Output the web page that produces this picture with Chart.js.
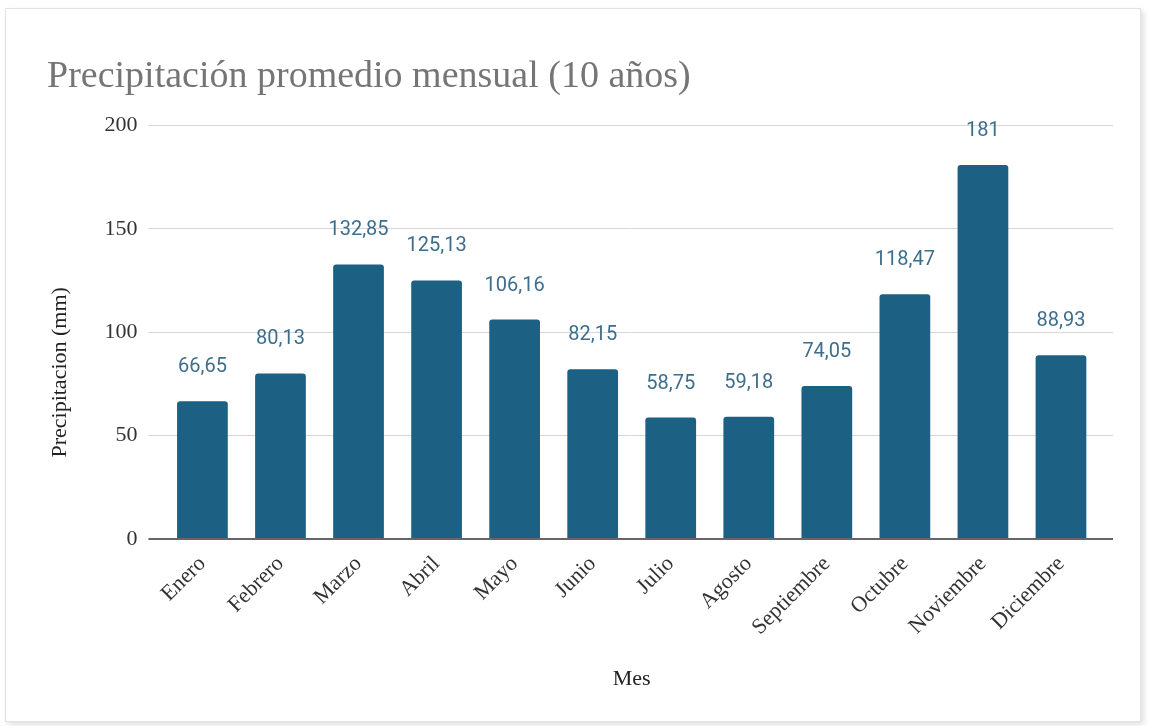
<!DOCTYPE html>
<html lang="es">
<head>
  <meta charset="UTF-8" />
  <title>Precipitación promedio mensual</title>
  <script src="https://cdn.jsdelivr.net/npm/chart.js"></script>
  <style>
    body {
      margin: 0;
      background: #fff;
      width: 1149px;
      height: 726px;
      overflow: hidden;
    }
    .frame {
      position: absolute;
      left: 5px;
      top: 8px;
      width: 1134px;
      height: 712px;
      border: 1px solid #e2e2e2;
      box-shadow: 3px 3px 6px rgba(0,0,0,0.12);
    }
    canvas {
      position: absolute;
      left: 0;
      top: 0;
    }
  </style>
</head>
<body>
  <div class="frame"></div>
  <canvas id="rainChart" width="1149" height="726"></canvas>

  <script>
    const meses = ['Enero', 'Febrero', 'Marzo', 'Abril', 'Mayo', 'Junio',
                   'Julio', 'Agosto', 'Septiembre', 'Octubre', 'Noviembre', 'Diciembre'];
    const precipitacion = [66.65, 80.13, 132.85, 125.13, 106.16, 82.15,
                           58.75, 59.18, 74.05, 118.47, 181, 88.93];
    const yTicks = [0, 50, 100, 150, 200];

    const serif = "'Liberation Serif', 'DejaVu Serif', serif";
    const gridColor = ctx => ctx.tick && ctx.tick.value === 0 ? '#666' : '#d6d6d6';
    const gridWidth = ctx => ctx.tick && ctx.tick.value === 0 ? 2 : 1;

    // value labels above each bar, decimal comma like the sheet
    const valueLabels = {
      id: 'valueLabels',
      afterDatasetsDraw(chart) {
        const ctx = chart.ctx;
        const meta = chart.getDatasetMeta(0);
        ctx.save();
        ctx.font = "20px Roboto, sans-serif";
        ctx.fillStyle = '#3e6e8e';
        ctx.textAlign = 'center';
        ctx.textBaseline = 'middle';
        meta.data.forEach((bar, i) => {
          const txt = String(precipitacion[i]).replace('.', ',');
          ctx.fillText(txt, bar.x, bar.y - 34);
        });
        ctx.restore();
      }
    };

    // the sheet puts the y title a bit below the plot centre
    const yTitle = {
      id: 'yTitle',
      afterDraw(chart) {
        const ctx = chart.ctx;
        const area = chart.chartArea;
        ctx.save();
        ctx.translate(chart.scales.y.left + 13, (area.top + area.bottom) / 2 + 40);
        ctx.rotate(-Math.PI / 2);
        ctx.font = "22px " + serif;
        ctx.fillStyle = '#222';
        ctx.textAlign = 'center';
        ctx.textBaseline = 'middle';
        ctx.fillText('Precipitacion (mm)', 0, 0);
        ctx.restore();
      }
    };

    new Chart(document.getElementById('rainChart'), {
      type: 'bar',
      data: {
        labels: meses,
        datasets: [{
          data: precipitacion,
          backgroundColor: '#1c6184',
          borderRadius: { topLeft: 3, topRight: 3 },
          borderSkipped: 'bottom',
          categoryPercentage: 0.65,
          barPercentage: 1
        }]
      },
      options: {
        responsive: false,
        animation: false,
        layout: { padding: { top: 54, left: 47, right: 36, bottom: 30 } },
        plugins: {
          legend: { display: false },
          tooltip: { enabled: false },
          title: {
            display: true,
            text: 'Precipitación promedio mensual (10 años)',
            align: 'start',
            color: '#757575',
            font: { family: serif, size: 38, weight: 'normal' },
            padding: { top: 0, bottom: 26 }
          }
        },
        scales: {
          x: {
            grid: { display: false },
            border: { color: '#666', width: 2 },
            ticks: {
              color: '#333',
              font: { family: serif, size: 22 },
              minRotation: 45,
              maxRotation: 45,
              padding: 4
            },
            title: {
              display: true,
              text: 'Mes',
              color: '#222',
              font: { family: serif, size: 22 },
              padding: { top: 21 }
            }
          },
          y: {
            min: 0,
            max: 200,
            afterBuildTicks(scale) {
              scale.ticks = yTicks.map(v => ({ value: v }));
            },
            grid: { color: gridColor, lineWidth: gridWidth, drawTicks: true, tickLength: 15 },
            border: { display: false },
            ticks: {
              color: '#333',
              font: { family: serif, size: 22 },
              padding: 11
            },
            title: {
              display: true,
              text: 'Precipitacion (mm)',
              color: 'transparent',
              font: { family: serif, size: 22 },
              padding: { bottom: 16 }
            }
          },
          // right side: only carries the gridline stubs past the last bar
          yRight: {
            position: 'right',
            min: 0,
            max: 200,
            afterBuildTicks(scale) {
              scale.ticks = yTicks.map(v => ({ value: v }));
            },
            grid: { color: gridColor, lineWidth: gridWidth, drawOnChartArea: false, drawTicks: true, tickLength: 13 },
            border: { display: false },
            ticks: { display: false }
          }
        }
      },
      plugins: [valueLabels, yTitle]
    });
  </script>
</body>
</html>
